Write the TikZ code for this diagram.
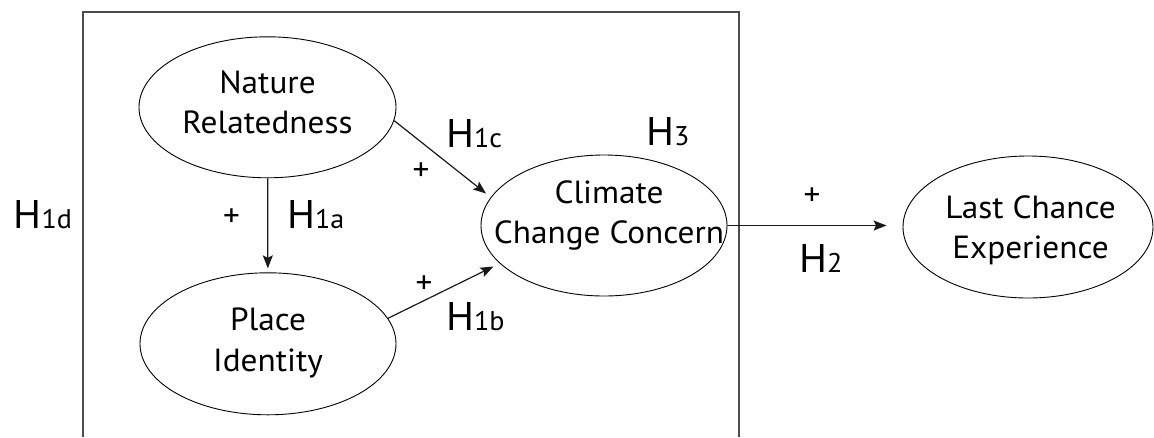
\documentclass[tikz,border=0pt]{standalone}
\usepackage{fontspec}
\setmainfont{PT Sans}[FakeStretch=1.04]
\usetikzlibrary{shapes.geometric,arrows.meta}
% hypothesis label: large H followed by a smaller index on the same baseline
\newcommand\hyplabel[1]{{\fontsize{40}{40}\selectfont H}{\fontsize{27}{27}\selectfont #1}}
\begin{document}
\begin{tikzpicture}[x=1pt,y=-1pt,
  oval/.style={draw=black,line width=0.9pt,ellipse,inner sep=0pt},
  txt/.style={font=\fontsize{32}{36}\selectfont,inner sep=0pt,anchor=base},
  plus/.style={font=\fontsize{32}{36}\selectfont,inner sep=0pt},
  hyp/.style={inner sep=0pt,anchor=base west},
  link/.style={draw=black!90,line width=1.2pt,-{Stealth[length=13pt,width=10pt,inset=2.5pt]}},
  frame/.style={draw=black!70,line width=1.6pt}]
\useasboundingbox (0,0) rectangle (1154,437);

% open frame around the antecedents
\coordinate (fbl) at (83,437);
\coordinate (ftl) at (83,12);
\coordinate (ftr) at (739,12);
\coordinate (fbr) at (739,437);
\draw[frame] (fbl) -- (ftl) -- (ftr) -- (fbr);

% constructs
\node[oval,minimum width=257pt,minimum height=141pt] (nr)  at (267.5,107.3) {};
\node[oval,minimum width=256pt,minimum height=142pt] (pi)  at (268,343.8) {};
\node[oval,minimum width=246pt,minimum height=141pt] (ccc) at (604,225.5) {};
\node[oval,minimum width=250pt,minimum height=142pt] (lce) at (1028,227) {};

\node[txt] (nrA)  at (267.5,93.3)  {Nature};
\node[txt] (nrB)  at (267.5,133.3) {Relatedness};
\node[txt] (piA)  at (268,330)     {Place};
\node[txt] (piB)  at (268,371)     {Identity};
\node[txt] (cccA) at (609,203.3)   {Climate};
\node[txt] (cccB) at (609,243.3)   {Change Concern};
\node[txt] (lceA) at (1030.5,218.5) {Last Chance};
\node[txt] (lceB) at (1030.5,258)   {Experience};

% paths
\draw[link,shorten >=4pt] (nr) -- (pi);
\draw[link,shorten >=6pt] (nr.-6) -- (ccc.166);
\draw[link,shorten >=7pt] (pi.12) -- (ccc.200);
\draw[link,shorten >=16pt] (ccc.east) -- (ccc.east -| lce.west);

% signs
\node[plus] (pA) at (231.5,218) {+};
\node[plus] (pC) at (421,171.7) {+};
\node[plus] (pB) at (424,285)   {+};
\node[plus] (pT) at (812,197)   {+};

% hypotheses
\node[hyp] (h1d) at (13.4,228)  {\hyplabel{1d}};
\node[hyp] (h1a) at (287,228)   {\hyplabel{1a}};
\node[hyp] (h1c) at (446,147.7) {\hyplabel{1c}};
\node[hyp] (h1b) at (446,330)   {\hyplabel{1b}};
\node[hyp] (h3)  at (646,145.7) {\hyplabel{3}};
\node[hyp] (h2)  at (799,272)   {\hyplabel{2}};
\end{tikzpicture}
\end{document}
